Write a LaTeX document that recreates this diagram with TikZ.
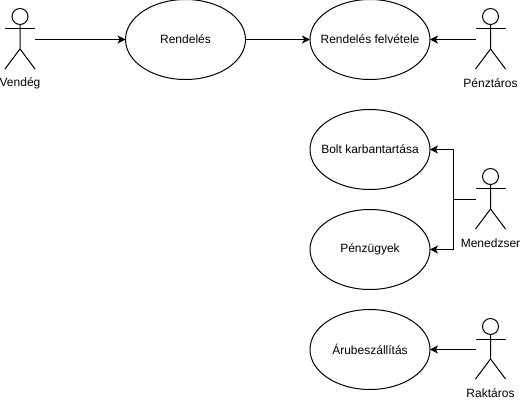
\documentclass[tikz,border=0pt]{standalone}
\usepackage{fontspec}
\setmainfont{Liberation Sans}
\usetikzlibrary{shapes.geometric, arrows.meta}

\begin{document}
\begin{tikzpicture}[x=1pt, y=-1pt, line width=1pt,
    font=\fontsize{12}{14}\selectfont,
    usecase/.style={
        draw, ellipse, minimum width=120pt, minimum height=80pt,
        inner xsep=-15pt, inner ysep=0pt, outer sep=0pt
    },
    flow/.style={-{Stealth[length=8pt, width=8pt, inset=2.2pt]}},
    actor/.pic={
        \draw (0,7.5) circle (8pt);
        \draw (0,15.5) -- (0,40) -- (-15,60);
        \draw (0,40) -- (15,60);
        \draw (-15,20) -- (15,20);
        \coordinate (-west) at (-15,30.5);
        \coordinate (-east) at (15,30.5);
        \node (-label) at (0,74) {#1};
    }
    ]
    \useasboundingbox (0,0) rectangle (520,401);

    % use cases
    \node [usecase] (rendeles) at (185.5,39.5) {Rendelés};
    \node [usecase] (felvetel) at (370,39.5) {Rendelés felvétele};
    \node [usecase] (bolt) at (370,149.5) {Bolt karbantartása};
    \node [usecase] (penzugy) at (370,249.5) {Pénzügyek};
    \node [usecase] (aru) at (370,349.5) {Árubeszállítás};

    % actors
    \pic (vendeg) at (20,9) {actor={Vendég}};
    \pic (penztaros) at (490.5,9) {actor={Pénztáros}};
    \pic (menedzser) at (490.5,169) {actor={Menedzser}};
    \pic (raktaros) at (490.5,319) {actor={Raktáros}};

    \coordinate (elagazas) at (453,199.5);

    \draw [flow] (vendeg-east) -- (rendeles.west);
    \draw [flow] (rendeles.east) -- (felvetel.west);
    \draw [flow] (penztaros-west) -- (felvetel.east);
    \draw (menedzser-west) -- (elagazas);
    \draw [flow] (elagazas) |- (bolt.east);
    \draw [flow] (elagazas) |- (penzugy.east);
    \draw [flow] (raktaros-west) -- (aru.east);
\end{tikzpicture}
\end{document}
